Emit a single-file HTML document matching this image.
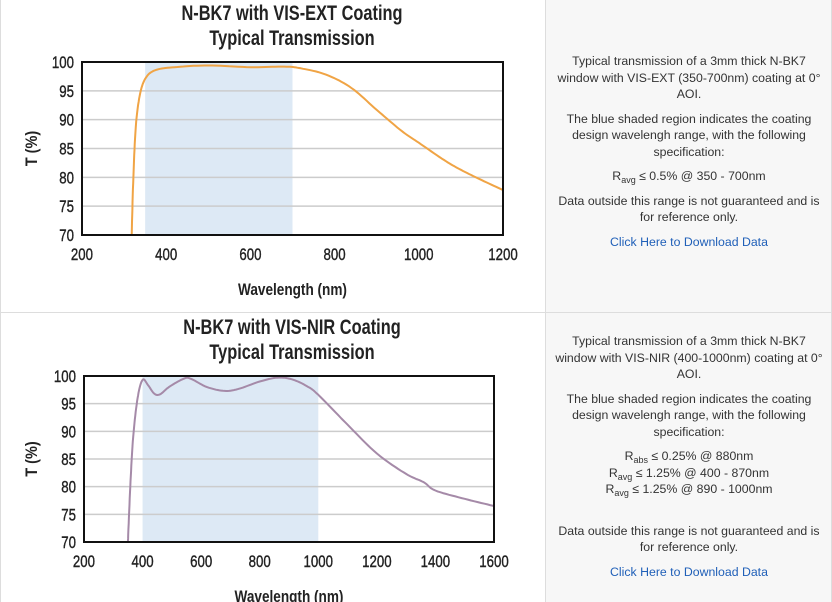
<!DOCTYPE html>
<html><head><meta charset="utf-8"><style>
body{margin:0;width:832px;height:602px;overflow:hidden;background:#fff;font-family:"Liberation Sans",sans-serif;position:relative}
.cell{position:absolute;box-sizing:border-box}
.txt{position:absolute;left:552px;width:274px;text-align:center;font-size:12.3px;color:#333;line-height:16.5px}
.txt p{margin:0 0 8px 0}
a{color:#1f5fb8;text-decoration:none}
sub{font-size:9px;vertical-align:-3px;line-height:0}
</style></head><body>
<div class="cell" style="left:0;top:0;width:546px;height:313px;border-right:1px solid #ddd;border-left:1px solid #ddd;border-bottom:1px solid #ddd"></div>
<div class="cell" style="left:546px;top:0;width:286px;height:313px;background:#f7f7f7;border-bottom:1px solid #ddd;border-right:1px solid #ddd"></div>
<div class="cell" style="left:0;top:313px;width:546px;height:289px;border-right:1px solid #ddd;border-left:1px solid #ddd"></div>
<div class="cell" style="left:546px;top:313px;width:286px;height:289px;background:#f7f7f7;border-right:1px solid #ddd"></div>
<svg id="s" width="832" height="602" style="position:absolute;left:0;top:0" font-family="Liberation Sans, sans-serif"></svg>
<div class="txt" style="top:53px">
<p>Typical transmission of a 3mm thick N-BK7 window with VIS-EXT (350-700nm) coating at 0° AOI.</p>
<p>The blue shaded region indicates the coating design wavelengh range, with the following specification:</p>
<p>R<sub>avg</sub> ≤ 0.5% @ 350 - 700nm</p>
<p>Data outside this range is not guaranteed and is for reference only.</p>
<p><a>Click Here to Download Data</a></p>
</div>
<div class="txt" style="top:333px">
<p>Typical transmission of a 3mm thick N-BK7 window with VIS-NIR (400-1000nm) coating at 0° AOI.</p>
<p>The blue shaded region indicates the coating design wavelengh range, with the following specification:</p>
<p style="margin:0">R<sub>abs</sub> ≤ 0.25% @ 880nm</p>
<p style="margin:0">R<sub>avg</sub> ≤ 1.25% @ 400 - 870nm</p>
<p style="margin:0 0 25px 0">R<sub>avg</sub> ≤ 1.25% @ 890 - 1000nm</p>
<p>Data outside this range is not guaranteed and is for reference only.</p>
<p><a>Click Here to Download Data</a></p>
</div>
<script>
var s=document.getElementById('s'),h='';
function sx(x,k){return 'translate('+x+' 0) scale('+k+' 1) translate('+(-x)+' 0)'}
function chart(o){
 var X=function(v){return o.x0+(v-o.xmin)/(o.xmax-o.xmin)*(o.x1-o.x0)},Y=function(v){return o.y1-(v-70)/30*(o.y1-o.y0)};
 h+='<text x="292" y="'+(o.y0-42)+'" text-anchor="middle" font-size="21" font-weight="bold" fill="#222" transform="'+sx(292,0.78)+'">'+o.t+'</text>';
 h+='<text x="292" y="'+(o.y0-17)+'" text-anchor="middle" font-size="21" font-weight="bold" fill="#222" transform="'+sx(292,0.78)+'">Typical Transmission</text>';
 h+='<rect x="'+X(o.s0)+'" y="'+o.y0+'" width="'+(X(o.s1)-X(o.s0))+'" height="'+(o.y1-o.y0)+'" fill="#dde9f5"/>';
 for(var v=75;v<100;v+=5)h+='<line x1="'+o.x0+'" x2="'+o.x1+'" y1="'+Y(v)+'" y2="'+Y(v)+'" stroke="#ccc" stroke-width="1.5"/>';
 for(v=70;v<=100;v+=5)h+='<text x="'+(o.x0-8)+'" y="'+(Y(v)+6)+'" text-anchor="end" font-size="17" fill="#222" stroke="#222" stroke-width="0.4" transform="'+sx(o.x0-8,0.78)+'">'+v+'</text>';
 for(v=o.xmin;v<=o.xmax;v+=200)h+='<text x="'+X(v)+'" y="'+(o.y1+25)+'" text-anchor="middle" font-size="17" fill="#222" stroke="#222" stroke-width="0.4" transform="'+sx(X(v),0.78)+'">'+v+'</text>';
 var d='';o.p.forEach(function(q,i){d+=(i?'L':'M')+X(q[0]).toFixed(1)+' '+Y(q[1]).toFixed(1)});
 h+='<path d="'+d+'" fill="none" stroke="'+o.c+'" stroke-width="2" stroke-linejoin="round"/>';
 h+='<rect x="'+o.x0+'" y="'+o.y0+'" width="'+(o.x1-o.x0)+'" height="'+(o.y1-o.y0)+'" fill="none" stroke="#111" stroke-width="2"/>';
 var cx=(o.x0+o.x1)/2;
 h+='<text x="'+cx+'" y="'+(o.y1+60)+'" text-anchor="middle" font-size="17" font-weight="bold" fill="#222" transform="'+sx(cx,0.8)+'">Wavelength (nm)</text>';
 var my=(o.y0+o.y1)/2;
 h+='<text transform="translate(37 '+my+') rotate(-90) scale(0.85 1)" text-anchor="middle" font-size="17" font-weight="bold" fill="#222">T (%)</text>';
}
function smooth(pts){var r=[];for(var i=0;i<pts.length-1;i++){var p0=pts[Math.max(i-1,0)],p1=pts[i],p2=pts[i+1],p3=pts[Math.min(i+2,pts.length-1)];for(var t=0;t<1;t+=0.1){var t2=t*t,t3=t2*t;r.push([0,1].map(function(k){return 0.5*((2*p1[k])+(-p0[k]+p2[k])*t+(2*p0[k]-5*p1[k]+4*p2[k]-p3[k])*t2+(-p0[k]+3*p1[k]-3*p2[k]+p3[k])*t3)}))}}r.push(pts[pts.length-1]);return r}
chart({t:'N-BK7 with VIS-EXT Coating',x0:82,x1:503,y0:62,y1:235,xmin:200,xmax:1200,s0:350,s1:700,c:'#f0a445',
 p:smooth([[318,70],[322,80],[328,89],[338,94.5],[352,97.3],[375,98.6],[420,99.1],[500,99.4],[600,99.1],[680,99.2],[720,98.9],[780,97.8],[840,95.5],[900,91.7],[960,88],[1000,86],[1060,83],[1100,81.3],[1150,79.5],[1200,77.8]])});
chart({t:'N-BK7 with VIS-NIR Coating',x0:84,x1:494,y0:376,y1:542,xmin:200,xmax:1600,s0:400,s1:1000,c:'#a58aa8',
 p:smooth([[350,70],[358,80],[368,89],[383,96],[400,99.3],[418,98.4],[440,96.8],[460,96.7],[490,98],[540,99.5],[565,99.5],[620,98],[680,97.3],[730,97.7],[800,99],[860,99.7],[910,99.4],[960,98.2],[1000,96.6],[1100,91.2],[1200,86],[1300,82.3],[1360,80.8],[1400,79.3],[1500,77.8],[1600,76.5]])});
s.innerHTML=h;
</script>
</body></html>
